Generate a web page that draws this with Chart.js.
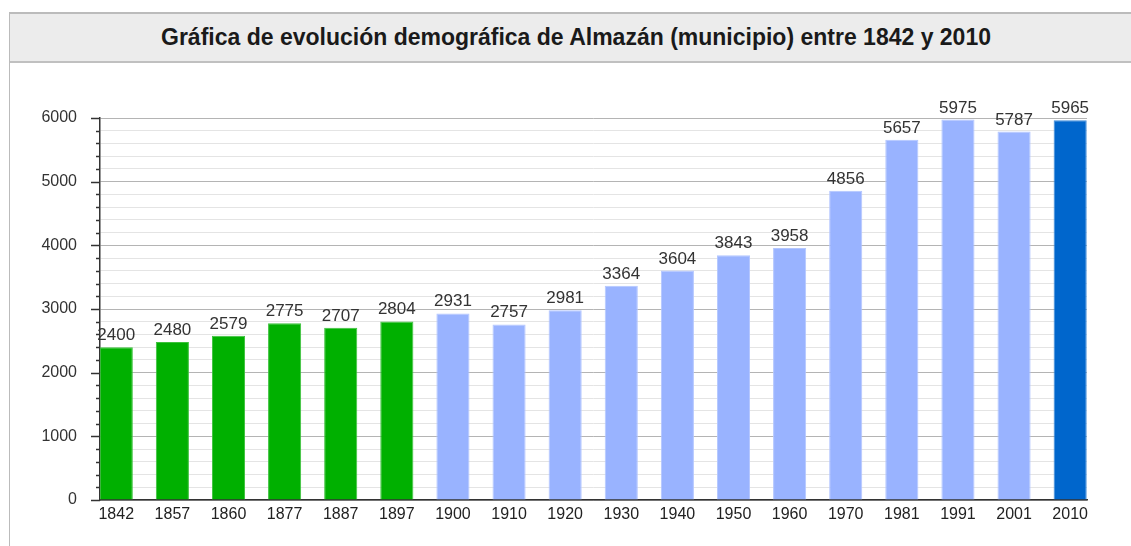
<!DOCTYPE html>
<html>
<head>
<meta charset="utf-8">
<script src="https://cdn.jsdelivr.net/npm/chart.js@4"></script>
<style>
  html, body { margin: 0; padding: 0; background: #fff; }
  body { width: 1131px; height: 546px; position: relative; overflow: hidden; }
  .frame {
    position: absolute; left: 9px; top: 12px; width: 1140px; height: 560px;
    border-left: 1.5px solid #bbb; border-top: 2px solid #bbb;
  }
  .title-band {
    position: absolute; left: 10px; top: 14px; width: 1140px; height: 47px;
    background: #ececec; border-bottom: 2px solid #c0c0c0;
    font: bold 23px "Liberation Sans", Arial, sans-serif; color: #1a1a1a;
    line-height: 47px; text-align: center;
  }
  .title-band span { position: absolute; left: 0; width: 1132px; text-align: center; }
  canvas { position: absolute; left: 0; top: 0; }
</style>
</head>
<body>
<div class="frame"></div>
<div class="title-band"><span>Gráfica de evolución demográfica de Almazán (municipio) entre 1842 y 2010</span></div>
<canvas id="chart" width="1131" height="546"></canvas>
<script>
const years = ["1842", "1857", "1860", "1877", "1887", "1897", "1900", "1910", "1920",
  "1930", "1940", "1950", "1960", "1970", "1981", "1991", "2001", "2010"];
const population = [2400, 2480, 2579, 2775, 2707, 2804, 2931, 2757, 2981,
  3364, 3604, 3843, 3958, 4856, 5657, 5975, 5787, 5965];
const yTicks = [0, 1000, 2000, 3000, 4000, 5000, 6000];

const GREEN = "#00b000";
const LIGHT_BLUE = "#99b3ff";
const DARK_BLUE = "#0066cc";

function barColor(i) {
  if (i < 6) return GREEN;
  if (i === years.length - 1) return DARK_BLUE;
  return LIGHT_BLUE;
}
function barEdge(i) {
  if (i < 6) return "#3cc23c";
  if (i === years.length - 1) return "#3d8ad8";
  return "#b3c6ff";
}

// value labels above bars + axis tick marks (minor ones shorter)
const extras = {
  id: "extras",
  afterDatasetsDraw(chart) {
    const ctx = chart.ctx;
    const meta = chart.getDatasetMeta(0);
    ctx.save();
    ctx.font = '17px "Liberation Sans", Arial, sans-serif';
    ctx.fillStyle = "#333";
    ctx.textAlign = "center";
    ctx.textBaseline = "alphabetic";
    meta.data.forEach((bar, i) => {
      ctx.fillText(String(population[i]), bar.x, bar.y - 7);
    });
    ctx.restore();
  },
  afterDraw(chart) {
    const ctx = chart.ctx;
    const y = chart.scales.y;
    const left = chart.chartArea.left;
    ctx.save();
    ctx.strokeStyle = "#333";
    ctx.lineWidth = 1.5;
    y.ticks.forEach((t) => {
      const py = Math.round(y.getPixelForValue(t.value)) + 0.5;
      const len = t.value % 1000 === 0 ? 9 : 4;
      ctx.beginPath();
      ctx.moveTo(left - len, py);
      ctx.lineTo(left, py);
      ctx.stroke();
    });
    ctx.restore();
  }
};

new Chart(document.getElementById("chart"), {
  type: "bar",
  data: {
    datasets: [{
      data: population.map((v, i) => ({ x: i, y: v })),
      backgroundColor: (c) => barColor(c.dataIndex),
      borderColor: (c) => barEdge(c.dataIndex),
      borderWidth: 1,
      barPercentage: 0.59,
      categoryPercentage: 1
    }]
  },
  options: {
    responsive: false,
    animation: false,
    layout: { padding: { left: 10, top: 118, right: 44, bottom: 16 } },
    plugins: { legend: { display: false }, tooltip: { enabled: false } },
    scales: {
      x: {
        type: "linear",
        offset: false,
        min: -0.29,
        max: 17.3,
        afterFit(s) { s.height = 30; },
        afterBuildTicks(s) { s.ticks = years.map((_, i) => ({ value: i })); },
        grid: { display: false, drawTicks: false },
        border: { color: "#333", width: 1.5 },
        ticks: {
          autoSkip: false, maxRotation: 0, padding: 5,
          color: "#222",
          font: { family: "Liberation Sans", size: 16 },
          callback: (v) => years[v]
        }
      },
      y: {
        min: 0,
        max: 6000,
        afterFit(s) { s.width = 90; },
        ticks: {
          stepSize: 200,
          maxTicksLimit: 40,
          autoSkip: false,
          padding: 23,
          color: "#333",
          font: { family: "Liberation Sans", size: 16 },
          callback: (v) => (yTicks.includes(v) ? String(v) : "")
        },
        grid: {
          drawTicks: false,
          lineWidth: 1,
          color: (c) => (c.tick && c.tick.value % 1000 === 0 ? "#b4b4b4" : "#e4e4e4")
        },
        border: { color: "#333", width: 1.5 }
      }
    }
  },
  plugins: [extras]
});
</script>
</body>
</html>
